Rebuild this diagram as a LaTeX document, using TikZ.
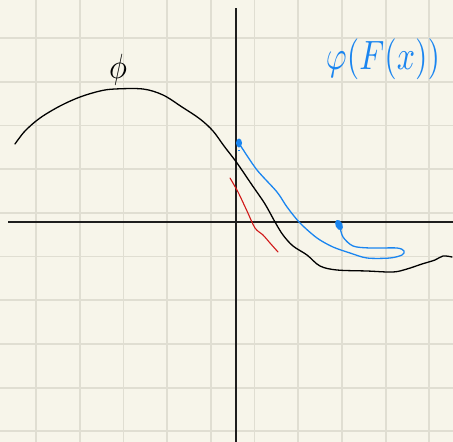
\documentclass[tikz,border=0pt]{standalone}
\usepackage{amsmath}
\begin{document}
\begin{tikzpicture}[x=1pt,y=-1pt,
  gridline/.style={draw=gridc,line width=1.8pt},
  axis/.style={draw=axisc,line width=1.4pt},
  curve/.style={line width=1.3pt,line cap=round,line join=round},
  lbl/.style={inner sep=0pt,outer sep=0pt}]
\definecolor{bgc}{HTML}{F7F5EA}
\definecolor{gridc}{HTML}{E0DED2}
\definecolor{axisc}{HTML}{1E1E1E}
\definecolor{bluec}{HTML}{1A85F0}
\definecolor{redc}{HTML}{D01818}
\fill[bgc] (0,0) rectangle (453,442);
\useasboundingbox (0,0) rectangle (453,442);
% grid
\foreach \k in {0,...,9}{
  \draw[gridline] ({36+43.7*\k},0) -- ({36+43.7*\k},442);
  \draw[gridline] (0,{38+43.7*\k}) -- (453,{38+43.7*\k});
}
% axes
\draw[axis] (236,8) -- (236,442);
\draw[axis] (8,222) -- (453,222);
% black curve phi
\draw[curve,black] plot[smooth,tension=0.55] coordinates {
 (15,144) (25,131) (40,118) (60,106) (80,97) (100,91) (115,89) (143,89)
 (163,95) (182,107) (200,119) (213,131) (224,146) (237,163) (252,185)
 (265,204) (275,222) (283,235) (293,246) (307,255) (320,266) (337,270)
 (367,271) (393,272) (407,269) (422,264) (435,260) (443,256) (452,257)};
% red curve
\draw[curve,redc,line width=1.1pt] plot[smooth,tension=0.5] coordinates {
 (230,178) (238,192) (247,211) (255,228) (263,235) (270,243) (278,252)};
% blue curve
\draw[curve,bluec] plot[smooth,tension=0.5] coordinates {
 (240,145) (242,148) (257,170) (277,192) (287,207) (300,223) (317,238)
 (333,247) (350,253) (367,258) (390,258) (402,255) (404,251) (397,248)
 (370,248) (353,246) (343,237) (340,227)};
\fill[bluec] (239,143) ellipse (3pt and 4.5pt);
\fill[bluec,rotate around={25:(339,225)}] (339,225) ellipse (3.5pt and 5.5pt);
\draw[bluec,line width=1pt] (238,150) -- (240,150);
% labels
\node[lbl,anchor=base,xscale=3,yscale=3.5] (phi) at (118,78) {$\phi$};
\node[lbl,text=bluec,xscale=3.2,yscale=4.1] (phiF) at (383,59) {$\varphi(F(x))$};
\end{tikzpicture}
\end{document}
